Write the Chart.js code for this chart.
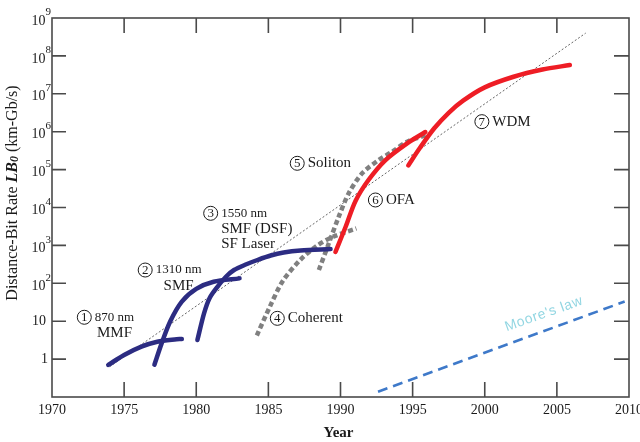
<!DOCTYPE html>
<html>
<head>
<meta charset="utf-8">
<script src="https://cdn.jsdelivr.net/npm/chart.js@4.4.0/dist/chart.umd.min.js"></script>
<style>
  html, body { margin: 0; padding: 0; background: #fff; }
</style>
</head>
<body>
<canvas id="lbChart" width="640" height="442"></canvas>
<script>
// --- data (year, LB in km-Gb/s) ---
const mmfYears = [1973.9, 1975, 1976.2, 1977.3, 1978.5, 1979];
const mmfRates = [0.7, 1.29, 2.14, 2.88, 3.31, 3.39];

const smfYears = [1977.1, 1977.6, 1978.2, 1979, 1980, 1981.2, 1983];
const smfRates = [0.71, 2.6, 10, 33, 71, 110, 135];

const dsfYears = [1980.08, 1980.54, 1980.93, 1981.47, 1982.04, 1982.62, 1983.43, 1984.24, 1985.16, 1986.06, 1987.23, 1989.31];
const dsfRates = [3.19, 16.1, 41, 81, 147, 224, 313, 412, 542, 650, 733, 803];

const coherentYears = [1984.2, 1985.1, 1986.0, 1987.2, 1988.4, 1989.5, 1991.1];
const coherentRates = [4.2, 24, 115, 410, 1000, 1700, 2800];

const solitonYears = [1988.5, 1989.19, 1989.88, 1990.57, 1991.5, 1992.65, 1993.58, 1994.62, 1996.0];
const solitonRates = [224, 1135, 5730, 23700, 79800, 179000, 296000, 545000, 818000];

const ofaYears = [1989.65, 1990.35, 1991.04, 1991.94, 1993.12, 1994.62, 1995.88];
const ofaRates = [670, 3050, 14900, 53200, 179000, 494000, 982000];

const wdmYears = [1994.7, 1995.5, 1996.5, 1997.5, 1998.5, 2000, 2002, 2004, 2005.9];
const wdmRates = [1.29e5, 3.7e5, 1.23e6, 3.16e6, 6.6e6, 1.48e7, 2.82e7, 4.37e7, 5.75e7];

const trendYears = [1974, 2007];
const trendRates = [0.63, 4e8];

const mooreYears = [1992.6, 2009.7];
const mooreRates = [0.138, 33];

// axis ticks
const xLabelYears = [1970, 1975, 1980, 1985, 1990, 1995, 2000, 2005, 2010];
const xTickYears = [1975, 1980, 1985, 1990, 1995, 2000, 2005];
const yLabelExps = [0, 1, 2, 3, 4, 5, 6, 7, 8, 9];
const yTickValues = [1, 10, 1e2, 1e3, 1e4, 1e5, 1e6, 1e7, 1e8];

// circled annotations, anchored in data coords
const notes = [
  { n: '1', year: 1972.24, rate: 12.7, lines: ['870 nm', 'MMF'], center: true },
  { n: '2', year: 1976.46, rate: 224, lines: ['1310 nm', 'SMF'], center: true },
  { n: '3', year: 1981.0, rate: 7030, lines: ['1550 nm', 'SMF (DSF)', 'SF Laser'], center: false },
  { n: '4', year: 1985.62, rate: 11.9, lines: ['Coherent'], center: false },
  { n: '5', year: 1987.0, rate: 146600, lines: ['Soliton'], center: false },
  { n: '6', year: 1992.42, rate: 15780, lines: ['OFA'], center: false },
  { n: '7', year: 1999.8, rate: 1.84e6, lines: ['WDM'], center: false }
];

const SERIF = '"Liberation Serif", "Times New Roman", serif';
const NAVY = '#2c2c82';
const RED = '#ee1d25';
const GREY = '#808080';

function pts(xs, ys) {
  return xs.map((x, i) => ({ x: x, y: ys[i] }));
}

function solid(xs, ys, color) {
  return {
    data: pts(xs, ys), borderColor: color, borderWidth: 4.5,
    borderCapStyle: 'round', borderJoinStyle: 'round',
    tension: 0.3, pointRadius: 0, fill: false, order: 1
  };
}

function dashed(xs, ys) {
  return {
    data: pts(xs, ys), borderColor: GREY, borderWidth: 4.5,
    borderDash: [5, 3], borderCapStyle: 'butt',
    tension: 0.3, pointRadius: 0, fill: false, order: 2
  };
}

// frame, inner ticks and the tick labels
const framePlugin = {
  id: 'framePlugin',
  beforeDatasetsDraw(chart) {
    const { ctx, chartArea: a, scales: { x, y } } = chart;
    ctx.save();
    ctx.strokeStyle = '#4a4a4a';
    ctx.lineWidth = 1.6;
    ctx.strokeRect(a.left, a.top, a.right - a.left, a.bottom - a.top);
    ctx.beginPath();
    xTickYears.forEach(yr => {
      const px = x.getPixelForValue(yr);
      ctx.moveTo(px, a.bottom); ctx.lineTo(px, a.bottom - 15);
      ctx.moveTo(px, a.top); ctx.lineTo(px, a.top + 15);
    });
    yTickValues.forEach(v => {
      const py = y.getPixelForValue(v);
      ctx.moveTo(a.left, py); ctx.lineTo(a.left + 14, py);
      ctx.moveTo(a.right, py); ctx.lineTo(a.right - 15, py);
    });
    ctx.stroke();
    ctx.restore();
  },
  afterDraw(chart) {
    const { ctx, chartArea: a, scales: { x, y } } = chart;
    ctx.save();
    ctx.fillStyle = '#1a1a1a';

    // x labels
    ctx.font = '14px ' + SERIF;
    ctx.textAlign = 'center';
    ctx.textBaseline = 'middle';
    xLabelYears.forEach(yr => ctx.fillText(String(yr), x.getPixelForValue(yr), a.bottom + 13));

    // y labels with superscripts
    yLabelExps.forEach(e => {
      const py = y.getPixelForValue(Math.pow(10, e));
      ctx.textAlign = 'right';
      ctx.font = '14px ' + SERIF;
      if (e === 0) { ctx.fillText('1', a.left - 4, py); return; }
      if (e === 1) { ctx.fillText('10', a.left - 6, py); return; }
      ctx.fillText('10', a.left - 6.5, py + 3);
      ctx.textAlign = 'left';
      ctx.font = '11px ' + SERIF;
      ctx.fillText(String(e), a.left - 6.5, py - 5.5);
    });

    // axis titles
    ctx.font = 'bold 15px ' + SERIF;
    ctx.textAlign = 'center';
    ctx.fillText('Year', (a.left + a.right) / 2 - 2, a.bottom + 36);

    ctx.save();
    ctx.translate(13, 193);
    ctx.rotate(-Math.PI / 2);
    const parts = [
      { t: 'Distance-Bit Rate ', f: '16px ' + SERIF, dy: 0 },
      { t: 'LB', f: 'italic bold 16px ' + SERIF, dy: 0 },
      { t: '0', f: 'italic bold 12px ' + SERIF, dy: 1.5 },
      { t: ' (km-Gb/s)', f: '16px ' + SERIF, dy: 0 }
    ];
    let total = 0;
    parts.forEach(p => { ctx.font = p.f; p.w = ctx.measureText(p.t).width; total += p.w; });
    let cx = -total / 2;
    ctx.textAlign = 'left';
    parts.forEach(p => { ctx.font = p.f; ctx.fillText(p.t, cx, p.dy); cx += p.w; });
    ctx.restore();

    // circled annotations
    notes.forEach(note => {
      const px = x.getPixelForValue(note.year);
      const py = y.getPixelForValue(note.rate);
      ctx.beginPath();
      ctx.lineWidth = 1;
      ctx.strokeStyle = '#1a1a1a';
      ctx.arc(px, py, 7, 0, Math.PI * 2);
      ctx.stroke();
      ctx.font = '13px ' + SERIF;
      ctx.textAlign = 'center';
      ctx.fillText(note.n, px, py + 0.5);

      const tx = px + 10.5;
      note.lines.forEach((line, i) => {
        const isNm = line.endsWith(' nm');
        ctx.font = (isNm ? '13px ' : '15px ') + SERIF;
        if (note.center && i > 0) {
          ctx.font = '13px ' + SERIF;
          const w0 = ctx.measureText(note.lines[0]).width;
          ctx.font = '15px ' + SERIF;
          ctx.textAlign = 'center';
          ctx.fillText(line, tx + w0 / 2, py + 16 * i);
        } else {
          ctx.textAlign = 'left';
          ctx.fillText(line, tx, py + (i === 0 ? 0 : 1 + 15 * i));
        }
      });
    });

    // Moore's law label
    ctx.save();
    ctx.translate(544, 314);
    ctx.rotate(-19.5 * Math.PI / 180);
    ctx.font = '14px "Liberation Sans", Arial, sans-serif';
    ctx.letterSpacing = '0.7px';
    ctx.fillStyle = '#92d6e2';
    ctx.textAlign = 'center';
    ctx.fillText("Moore's law", 0, 0);
    ctx.restore();

    ctx.restore();
  }
};

const ctx = document.getElementById('lbChart').getContext('2d');
new Chart(ctx, {
  type: 'line',
  data: {
    datasets: [
      solid(mmfYears, mmfRates, NAVY),
      solid(smfYears, smfRates, NAVY),
      solid(dsfYears, dsfRates, NAVY),
      dashed(coherentYears, coherentRates),
      dashed(solitonYears, solitonRates),
      solid(ofaYears, ofaRates, RED),
      solid(wdmYears, wdmRates, RED),
      {
        data: pts(trendYears, trendRates), borderColor: '#555', borderWidth: 0.9,
        borderDash: [2, 2], pointRadius: 0, fill: false, order: 3
      },
      {
        data: pts(mooreYears, mooreRates), borderColor: '#3e79c9', borderWidth: 2.6,
        borderDash: [10, 6], pointRadius: 0, fill: false, order: 2
      }
    ]
  },
  options: {
    responsive: false,
    animation: false,
    devicePixelRatio: 1,
    layout: { padding: { left: 44, top: 18, right: 11, bottom: 37 } },
    plugins: { legend: { display: false }, tooltip: { enabled: false } },
    scales: {
      x: {
        type: 'linear', min: 1970, max: 2010,
        grid: { display: false }, border: { display: false },
        ticks: { display: false }
      },
      y: {
        type: 'logarithmic', min: 0.1, max: 1e9,
        afterBuildTicks: scale => { scale.ticks = yTickValues.map(v => ({ value: v })); },
        grid: { display: false }, border: { display: false },
        ticks: { display: false }
      }
    }
  },
  plugins: [framePlugin]
});
</script>
</body>
</html>
